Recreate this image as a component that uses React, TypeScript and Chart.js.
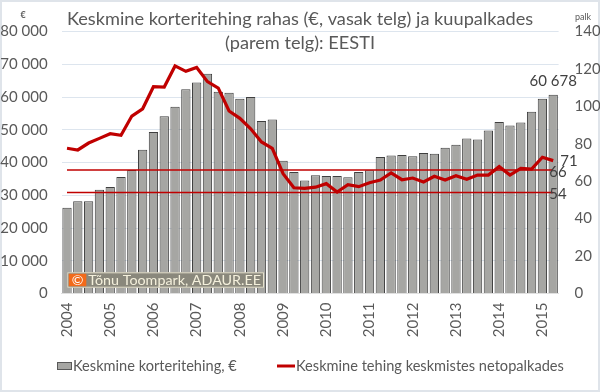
import { useEffect, useRef } from 'react';
import { Chart, registerables } from 'chart.js';

Chart.register(...registerables);

const categories = [
  '2004 I', '2004 II', '2004 III', '2004 IV',
  '2005 I', '2005 II', '2005 III', '2005 IV',
  '2006 I', '2006 II', '2006 III', '2006 IV',
  '2007 I', '2007 II', '2007 III', '2007 IV',
  '2008 I', '2008 II', '2008 III', '2008 IV',
  '2009 I', '2009 II', '2009 III', '2009 IV',
  '2010 I', '2010 II', '2010 III', '2010 IV',
  '2011 I', '2011 II', '2011 III', '2011 IV',
  '2012 I', '2012 II', '2012 III', '2012 IV',
  '2013 I', '2013 II', '2013 III', '2013 IV',
  '2014 I', '2014 II', '2014 III', '2014 IV',
  '2015 I', '2015 II',
];

const yearTickLabels = [
  '2004', '2005', '2006', '2007', '2008', '2009',
  '2010', '2011', '2012', '2013', '2014', '2015',
];

// average apartment deal, EUR (left axis)
const dealValues = [
  26200, 28200, 28200, 31700, 32500, 35600, 37700, 43900, 49300, 54100,
  57000, 62400, 64400, 67100, 61600, 61300, 59500, 60000, 52700, 53100,
  40500, 37100, 34500, 36100, 35900, 35900, 35500, 37100, 37600, 41700,
  42100, 42300, 41900, 42900, 42700, 44500, 45400, 47300, 47000, 49800,
  52400, 51300, 52200, 55500, 59500, 60678,
];

// average deal in monthly net salaries (right axis)
const dealInSalaries = [
  77.6, 76.7, 80.4, 82.9, 85.4, 84.5, 94.8, 98.7, 110.5, 110.3,
  121.6, 118.7, 120.8, 113.2, 109.8, 97.5, 93.6, 88.0, 81.0, 77.6,
  64.0, 56.5, 56.2, 56.8, 58.7, 54.2, 58.1, 57.1, 59.2, 60.6,
  64.4, 60.8, 61.7, 59.6, 62.6, 60.6, 62.9, 61.0, 63.3, 63.3,
  67.8, 63.3, 66.9, 66.5, 72.8, 71.0,
];

const referenceLevels = [66, 54];

const leftAxisMax = 80000;
const leftAxisStep = 10000;
const rightAxisMax = 140;
const rightAxisStep = 20;

const titleLines = [
  'Keskmine korteritehing rahas (€, vasak telg) ja kuupalkades',
  '(parem telg): EESTI',
];
const leftUnit = '€';
const rightUnit = 'palk';
const barSeriesName = 'Keskmine korteritehing, €';
const lineSeriesName = 'Keskmine tehing keskmistes netopalkades';
const watermarkText = 'Tõnu Toompark, ADAUR.EE';

const FONT = 'Lato, "Open Sans", sans-serif';
const TEXT = '#595959';
const RED = '#c00000';
const BAR_FILL = '#a6a6a3';
const BAR_EDGE = '#3f3f3f';

function fmt(v: number): string {
  return String(Math.round(v)).replace(/\B(?=(\d{3})+(?!\d))/g, ' ');
}

const decorations = {
  id: 'decorations',
  beforeDraw(chart: any) {
    const { ctx, width, height } = chart;
    ctx.save();
    ctx.fillStyle = '#ffffff';
    ctx.fillRect(0, 0, width, height);
    ctx.strokeStyle = '#dfe4ea';
    ctx.lineWidth = 2;
    ctx.strokeRect(1, 1, width - 2, height - 2);
    ctx.restore();
  },
  afterDraw(chart: any) {
    const { ctx, chartArea, width } = chart;
    ctx.save();

    // title
    ctx.fillStyle = TEXT;
    ctx.font = `18.2px ${FONT}`;
    ctx.textAlign = 'center';
    ctx.textBaseline = 'middle';
    ctx.fillText(titleLines[0], width / 2, 19);
    ctx.fillText(titleLines[1], width / 2, 43);

    // unit captions
    ctx.font = `bold 9px ${FONT}`;
    ctx.fillText(leftUnit, 23, 15);
    ctx.font = `9px ${FONT}`;
    ctx.fillText(rightUnit, 583, 17);

    // data labels on last points
    ctx.font = `15px ${FONT}`;
    ctx.fillStyle = '#404040';
    const lineMeta = chart.getDatasetMeta(0);
    const lastLine = lineMeta.data[lineMeta.data.length - 1];
    ctx.textAlign = 'left';
    ctx.fillText(fmt(dealInSalaries[dealInSalaries.length - 1]), lastLine.x + 7, lastLine.y + 1);
    referenceLevels.forEach((lvl, i) => {
      const m = chart.getDatasetMeta(1 + i);
      const p = m.data[m.data.length - 1];
      ctx.fillText(String(lvl), p.x - 4, p.y + 2);
    });
    const barMeta = chart.getDatasetMeta(3);
    const lastBar = barMeta.data[barMeta.data.length - 1];
    ctx.textAlign = 'center';
    ctx.fillText(fmt(dealValues[dealValues.length - 1]), lastBar.x, lastBar.y - 14);

    // watermark
    const wx = chartArea.left + 5.7;
    const wy = chartArea.bottom - 21.2;
    ctx.fillStyle = '#8a887c';
    ctx.fillRect(wx, wy, 196.7, 15.4);
    ctx.strokeStyle = '#e4e0cc';
    ctx.lineWidth = 1;
    ctx.strokeRect(wx + 0.5, wy + 0.5, 195.7, 14.4);
    ctx.fillStyle = '#f26a1b';
    ctx.fillRect(wx + 1.5, wy + 1.5, 17.5, 12.4);
    ctx.fillStyle = '#ffffff';
    ctx.font = `14px ${FONT}`;
    ctx.textAlign = 'center';
    ctx.textBaseline = 'middle';
    ctx.fillText('©', wx + 10.2, wy + 8);
    ctx.fillStyle = '#f4f0dc';
    ctx.textAlign = 'left';
    ctx.font = `14.3px ${FONT}`;
    ctx.fillText(watermarkText, wx + 21, wy + 8);

    // legend
    const ly = 366;
    ctx.fillStyle = BAR_FILL;
    ctx.fillRect(57, ly - 4, 15, 8);
    ctx.strokeStyle = '#595959';
    ctx.strokeRect(57.5, ly - 3.5, 14, 7);
    ctx.fillStyle = TEXT;
    ctx.font = `14.6px ${FONT}`;
    ctx.textAlign = 'left';
    ctx.fillText(chart.data.datasets[3].label, 73, ly);
    ctx.strokeStyle = RED;
    ctx.lineWidth = 3;
    ctx.beginPath();
    ctx.moveTo(277, ly);
    ctx.lineTo(295, ly);
    ctx.stroke();
    ctx.fillText(chart.data.datasets[0].label, 296, ly);

    ctx.restore();
  },
};

export default function App() {
  const ref = useRef<HTMLCanvasElement | null>(null);

  useEffect(() => {
    document.body.style.margin = '0';
    if (!ref.current) return;
    Chart.defaults.font.family = FONT;
    const first = categories[0];
    const last = categories[categories.length - 1];
    const chart = new Chart(ref.current, {
      type: 'bar',
      data: {
        labels: categories,
        datasets: [
          {
            type: 'line',
            label: lineSeriesName,
            data: dealInSalaries,
            yAxisID: 'y1',
            borderColor: RED,
            borderWidth: 3.2,
            pointRadius: 0,
            tension: 0,
            order: 0,
          } as any,
          ...referenceLevels.map((lvl, i) => ({
            type: 'line',
            label: `ref ${lvl}`,
            data: [
              { x: first, y: lvl },
              { x: last, y: lvl },
            ],
            yAxisID: 'y1',
            borderColor: RED,
            borderWidth: 1.4,
            pointRadius: 0,
            order: 1 + i,
          })) as any,
          {
            type: 'bar',
            label: barSeriesName,
            data: dealValues,
            yAxisID: 'y',
            backgroundColor: BAR_FILL,
            borderColor: BAR_EDGE,
            borderWidth: 1,
            barPercentage: 0.86,
            categoryPercentage: 1,
            order: 5,
          } as any,
        ],
      },
      options: {
        responsive: false,
        animation: false,
        layout: { padding: { top: 31.5, left: 0, right: 0, bottom: 0 } },
        plugins: {
          legend: { display: false },
          title: { display: false },
          tooltip: { enabled: false },
        },
        scales: {
          x: {
            offset: true,
            grid: { display: false, drawTicks: false },
            border: { display: true, color: '#e0e0e0' },
            ticks: {
              autoSkip: false,
              minRotation: 90,
              maxRotation: 90,
              padding: 9,
              color: TEXT,
              font: { size: 15, family: FONT },
              callback: (_v: any, idx: number) => (idx % 4 === 0 ? yearTickLabels[idx / 4] : null),
            },
            afterFit: (s: any) => {
              s.height = 98.5;
            },
          },
          y: {
            position: 'left',
            min: 0,
            max: leftAxisMax,
            grid: { color: '#dde5ee', lineWidth: 1, drawTicks: false },
            border: { display: false },
            ticks: {
              stepSize: leftAxisStep,
              padding: 14,
              color: TEXT,
              font: { size: 15, family: FONT },
              callback: (v: any) => fmt(Number(v)),
            },
            afterFit: (s: any) => {
              s.width = 61.6;
            },
          },
          y1: {
            position: 'right',
            min: 0,
            max: rightAxisMax,
            grid: { display: false, drawTicks: false },
            border: { display: false },
            ticks: {
              stepSize: rightAxisStep,
              padding: 16,
              color: TEXT,
              font: { size: 15, family: FONT },
            },
            afterFit: (s: any) => {
              s.width = 41.4;
            },
          },
        },
      },
      plugins: [decorations],
    });
    return () => chart.destroy();
  }, []);

  return (
    <div style={{ width: 600, height: 392 }}>
      <canvas ref={ref} width={600} height={392} style={{ display: 'block' }} />
    </div>
  );
}
